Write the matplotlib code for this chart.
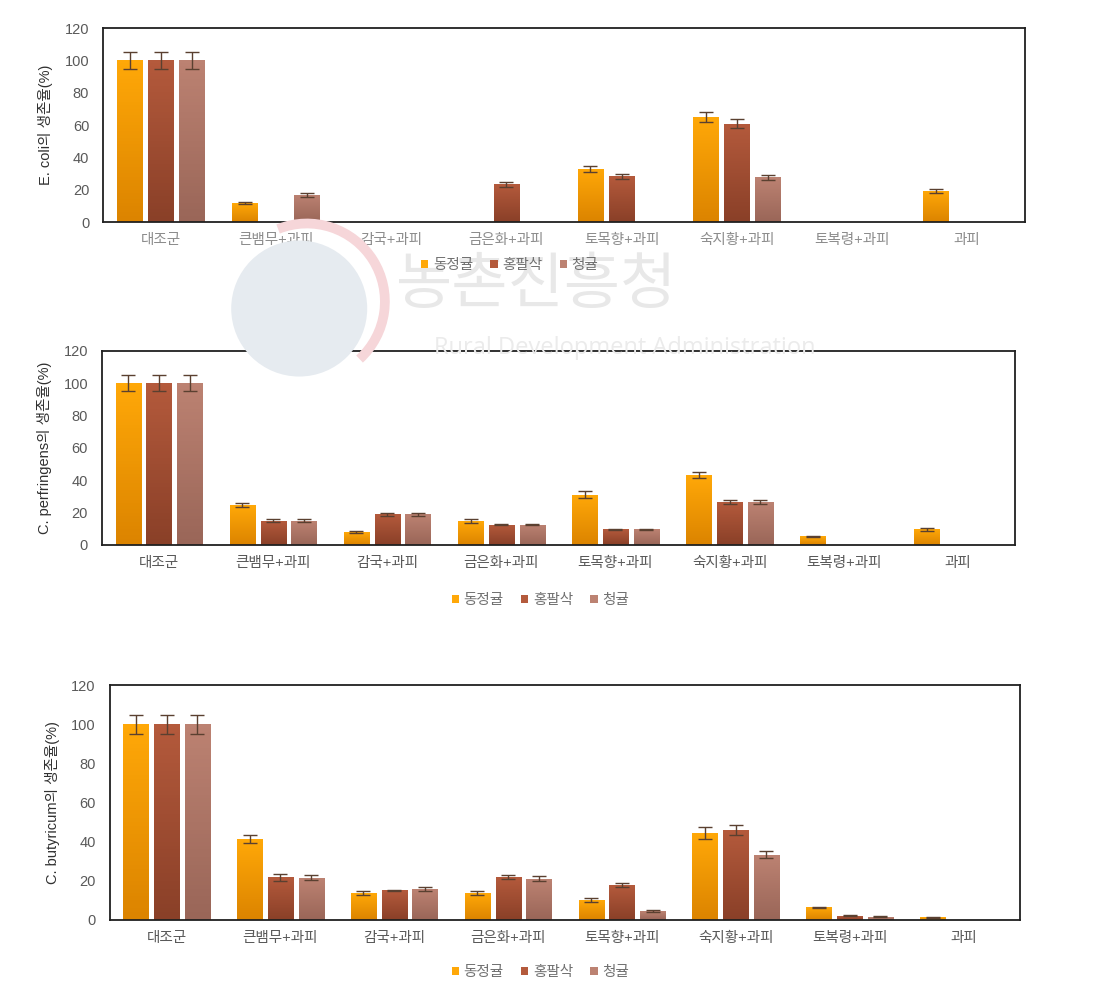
import numpy as np
import matplotlib
matplotlib.use("Agg")
import matplotlib.pyplot as plt
from matplotlib.patches import Ellipse, Arc

plt.rcParams['font.family'] = ['Liberation Sans', 'Noto Sans CJK KR', 'DejaVu Sans']

categories = ['대조군', '큰뱀무+과피', '감국+과피', '금은화+과피', '토목향+과피',
              '숙지황+과피', '토복령+과피', '과피']
series = ['동정귤', '홍팔삭', '청귤']

# E. coli survival (%)
ecoli = {
    '동정귤': [100, 11.7, 0, 0, 32.8, 65.2, 0, 19.2],
    '홍팔삭': [100, 0, 0, 23.5, 28.4, 61.0, 0, 0],
    '청귤': [100, 16.8, 0, 0, 0, 27.6, 0, 0],
}
ecoli_err = {
    '동정귤': [5, 0.6, 0, 0, 2, 3, 0, 1],
    '홍팔삭': [5, 0, 0, 1.5, 1.5, 3, 0, 0],
    '청귤': [5, 1, 0, 0, 0, 1.5, 0, 0],
}

# C. perfringens survival (%)
perf = {
    '동정귤': [100, 24.7, 8.0, 14.8, 31.0, 43.2, 5.3, 9.5],
    '홍팔삭': [100, 14.8, 18.7, 12.5, 9.5, 26.4, 0, 0],
    '청귤': [100, 14.8, 18.7, 12.5, 9.5, 26.4, 0, 0],
}
perf_err = {
    '동정귤': [5, 1.2, 0.5, 1.2, 2, 2, 0.3, 1],
    '홍팔삭': [5, 1, 1, 0.3, 0.3, 1, 0, 0],
    '청귤': [5, 1, 1, 0.3, 0.3, 1, 0, 0],
}

# C. butyricum survival (%)
buty = {
    '동정귤': [100, 41.3, 13.6, 13.6, 9.9, 44.3, 6.4, 1.2],
    '홍팔삭': [100, 21.7, 15.0, 21.8, 17.9, 46.0, 2.0, 0],
    '청귤': [100, 21.5, 15.6, 21.0, 4.4, 33.3, 1.5, 0],
}
buty_err = {
    '동정귤': [5, 2, 1, 1, 1, 3, 0.3, 0.2],
    '홍팔삭': [5, 1.8, 0.3, 1, 1, 2.5, 0.3, 0],
    '청귤': [5, 1.3, 1, 1.2, 0.4, 2, 0.3, 0],
}

top_colors = {'동정귤': '#FFA808', '홍팔삭': '#B45A3C', '청귤': '#BC8272'}
bot_colors = {'동정귤': '#DC8400', '홍팔삭': '#8A4028', '청귤': '#9A6658'}

panels = [
    (ecoli, ecoli_err, 'E. coli의 생존율(%)', [0.094, 0.779, 0.841, 0.193], (0.465, 0.736), '#8C8C8C'),
    (perf, perf_err, 'C. perfringens의 생존율(%)', [0.093, 0.458, 0.833, 0.193], (0.493, 0.403), '#595959'),
    (buty, buty_err, 'C. butyricum의 생존율(%)', [0.100, 0.085, 0.831, 0.233], (0.493, 0.033), '#595959'),
]

fig = plt.figure(figsize=(10.96, 10.05), dpi=100)

# faint watermark (logo + agency name)
fig.patches.append(Ellipse((0.273, 0.693), 2 * 68 / 1096, 2 * 68 / 1005, transform=fig.transFigure,
                           facecolor='#E6EBF0', edgecolor='none', zorder=0))
fig.patches.append(Arc((0.280, 0.700), 2 * 78 / 1096, 2 * 78 / 1005, theta1=-50, theta2=110,
                       transform=fig.transFigure, color='#F6D6D9', linewidth=7, zorder=0))
fig.text(0.49, 0.716, '농촌진흥청', fontsize=44, color='#E8E8E8', ha='center', va='center',
         family=['Noto Sans CJK KR'], zorder=0)
fig.text(0.57, 0.654, 'Rural Development Administration', fontsize=17, color='#EBEBEB',
         ha='center', va='center', family=['Open Sans'], zorder=0)

x = np.arange(len(categories))
width = 0.22
offsets = [-0.27, 0, 0.27]

for data, err, ylabel, rect, legpos, xlab_color in panels:
    ax = fig.add_axes(rect)
    ax.patch.set_alpha(0)
    handles = []
    for off, s in zip(offsets, series):
        bars = ax.bar(x + off, data[s], width, color=top_colors[s], label=s, zorder=2)
        grad = np.linspace(0, 1, 50).reshape(-1, 1)
        cmap = matplotlib.colors.LinearSegmentedColormap.from_list(
            s, [bot_colors[s], top_colors[s]])
        for b in bars:
            h = b.get_height()
            if h <= 0:
                continue
            bx, by = b.get_x(), b.get_y()
            im = ax.imshow(grad, extent=(bx, bx + b.get_width(), by, by + h), origin='lower',
                           cmap=cmap, aspect='auto', zorder=2.5)
            im.set_clip_path(b)
        e = np.array(err[s], dtype=float)
        v = np.array(data[s], dtype=float)
        mask = e > 0
        ax.errorbar((x + off)[mask], v[mask], yerr=e[mask], fmt='none', ecolor='#5A4030',
                    elinewidth=1, capsize=5, capthick=1, zorder=3)
        handles.append(bars)
    ax.set_xlim(-0.5, len(categories) - 0.5)
    ax.set_ylim(0, 120)
    ax.set_yticks(np.arange(0, 121, 20))
    ax.set_xticks(x)
    ax.set_xticklabels(categories, fontsize=10.5, color=xlab_color)
    ax.tick_params(axis='both', length=0, pad=8)
    ax.tick_params(axis='y', labelsize=10.5, labelcolor='#595959', pad=10)
    for sp in ax.spines.values():
        sp.set_linewidth(1.3)
        sp.set_color('#202020')
    ax.set_ylabel(ylabel, fontsize=10.5, color='#303030', labelpad=8)
    fig.legend(handles, series, loc='center', bbox_to_anchor=legpos, ncol=3, frameon=False,
               fontsize=10.5, handlelength=0.5, handleheight=0.5, handletextpad=0.3,
               columnspacing=1.2, labelcolor='#707070')

fig.savefig('out.png', dpi=100)
